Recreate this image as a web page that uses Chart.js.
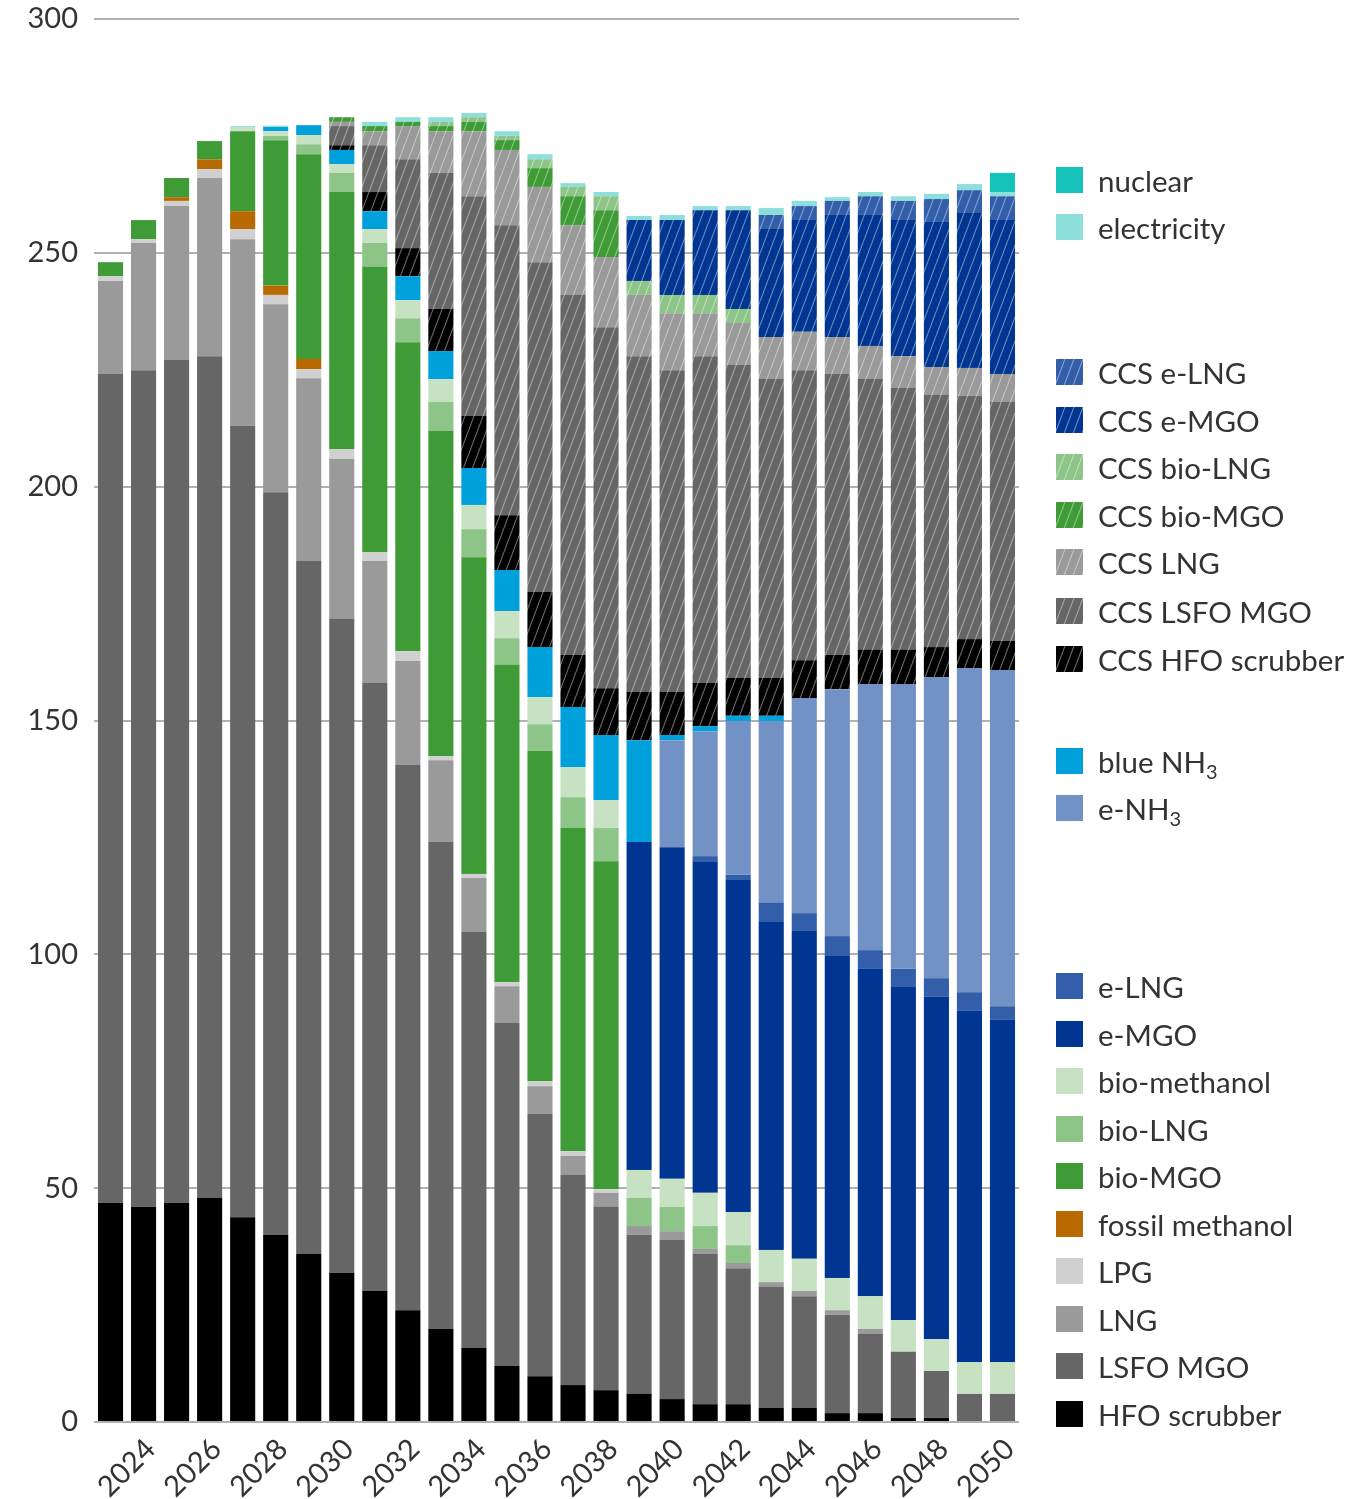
<!DOCTYPE html>
<html lang="en">
<head>
  <meta charset="UTF-8" />
  <title>Fuel mix by year</title>
  <script src="https://cdn.jsdelivr.net/npm/chart.js"></script>
  <style>
    body {
      margin: 0;
      background: #ffffff;
      font-family: 'Lato', 'Open Sans', sans-serif;
    }
    #wrap {
      position: relative;
      width: 1353px;
      height: 1499px;
    }
    #legend .item {
      position: absolute;
      left: 1056px;
      height: 30px;
      display: flex;
      align-items: center;
      white-space: nowrap;
      color: #333333;
      font-size: 29.5px;
    }
    #legend canvas {
      width: 27px;
      height: 26px;
      margin-right: 15px;
    }
    #legend sub {
      font-size: 20px;
      vertical-align: -6px;
      line-height: 0;
    }
  </style>
</head>
<body>
  <div id="wrap">
    <canvas id="fuelChart" width="1353" height="1499"></canvas>
    <div id="legend"></div>
  </div>

  <script>
    const years = ['2023', '2024', '2025', '2026', '2027', '2028', '2029', '2030', '2031', '2032',
      '2033', '2034', '2035', '2036', '2037', '2038', '2039', '2040', '2041', '2042',
      '2043', '2044', '2045', '2046', '2047', '2048', '2049', '2050'];

    const yTicks = [0, 50, 100, 150, 200, 250, 300];

    // fuel volumes per year, one list per fuel, bottom of the stack first
    const hfoScrubber   = [46.9, 46.0, 46.9, 47.9, 43.8, 40.0, 35.9, 31.9, 28.0, 23.9, 19.9, 15.8, 12.0, 9.8, 7.9, 6.8, 6.0, 4.9, 3.8, 3.8, 3.0, 3.0, 1.9, 1.9, 0.9, 0.9, 0, 0];
    const lsfoMgo       = [177.2, 178.9, 180.2, 180.0, 169.2, 158.8, 148.2, 139.8, 130.0, 116.6, 104.1, 89.0, 73.3, 56.1, 44.9, 39.2, 34.0, 34.0, 32.1, 29.1, 25.9, 23.9, 21.0, 16.9, 14.1, 10.0, 6.0, 6.0];
    const lng           = [19.9, 27.2, 32.9, 38.1, 39.9, 40.2, 39.1, 34.2, 26.1, 22.2, 17.5, 11.5, 7.9, 5.9, 4.1, 3.0, 1.9, 1.9, 1.1, 1.1, 1.0, 1.1, 1.0, 1.1, 0, 0, 0, 0];
    const lpg           = [1.0, 0.8, 1.1, 1.9, 2.2, 2.0, 1.9, 2.1, 1.9, 2.1, 0.9, 0.9, 0.9, 1.1, 1.0, 0.8, 0, 0, 0, 0, 0, 0, 0, 0, 0, 0, 0, 0];
    const fossilMeth    = [0, 0, 0.8, 2.1, 3.8, 2.0, 2.2, 0, 0, 0, 0, 0, 0, 0, 0, 0, 0, 0, 0, 0, 0, 0, 0, 0, 0, 0, 0, 0];
    const bioMgo        = [3.0, 4.1, 4.1, 3.9, 17.1, 31.1, 43.8, 55.0, 61.0, 66.1, 69.5, 67.7, 67.8, 70.6, 69.1, 70.1, 0, 0, 0, 0, 0, 0, 0, 0, 0, 0, 0, 0];
    const bioLng        = [0, 0, 0, 0, 0, 0.9, 2.1, 4.1, 5.1, 5.1, 6.2, 6.0, 5.7, 5.7, 6.6, 7.1, 6.0, 5.2, 4.9, 3.8, 0, 0, 0, 0, 0, 0, 0, 0];
    const bioMeth       = [0, 0, 0, 0, 0.9, 1.0, 2.0, 1.9, 3.0, 3.9, 4.9, 5.2, 5.8, 5.8, 6.4, 6.0, 6.0, 6.0, 7.1, 7.1, 6.9, 6.9, 6.9, 7.0, 6.8, 6.8, 6.8, 6.8];
    const eMgo          = [0, 0, 0, 0, 0, 0, 0, 0, 0, 0, 0, 0, 0, 0, 0, 0, 70.1, 70.9, 70.9, 71.0, 70.1, 70.1, 69.0, 70.0, 71.2, 73.2, 75.1, 73.2];
    const eLng          = [0, 0, 0, 0, 0, 0, 0, 0, 0, 0, 0, 0, 0, 0, 0, 0, 0, 0, 1.1, 1.1, 4.1, 3.8, 4.1, 4.0, 3.9, 4.0, 4.0, 2.9];
    const eNh3          = [0, 0, 0, 0, 0, 0, 0, 0, 0, 0, 0, 0, 0, 0, 0, 0, 0, 22.9, 26.7, 32.9, 38.9, 46.0, 52.8, 56.9, 60.9, 64.4, 69.3, 71.9];
    const blueNh3       = [0, 0, 0, 0, 0, 0.9, 2.1, 3.0, 3.8, 5.1, 6.0, 7.9, 8.8, 10.7, 12.9, 13.9, 21.8, 1.1, 1.1, 1.1, 1.1, 0, 0, 0, 0, 0, 0, 0];
    const ccsHfo        = [0, 0, 0, 0, 0, 0, 0, 1.0, 4.1, 6.0, 9.0, 11.1, 11.7, 11.8, 11.1, 10.0, 10.3, 9.2, 9.2, 8.1, 8.1, 8.1, 7.3, 7.3, 7.3, 6.4, 6.2, 6.2];
    const ccsLsfoMgo    = [0, 0, 0, 0, 0, 0, 0, 4.1, 10.0, 19.0, 29.1, 47.0, 62.0, 70.5, 77.0, 77.2, 71.8, 68.8, 69.9, 66.9, 63.9, 62.0, 60.1, 57.9, 56.0, 53.9, 52.0, 51.1];
    const ccsLng        = [0, 0, 0, 0, 0, 0, 0, 0.9, 3.0, 7.1, 8.9, 13.9, 16.1, 16.1, 14.9, 15.0, 13.1, 12.2, 9.2, 9.0, 9.0, 8.2, 7.9, 7.1, 6.8, 6.0, 6.0, 6.0];
    const ccsBioMgo     = [0, 0, 0, 0, 0, 0, 0, 1.0, 1.1, 0.9, 1.1, 2.0, 2.1, 4.0, 6.2, 10.0, 0, 0, 0, 0, 0, 0, 0, 0, 0, 0, 0, 0];
    const ccsBioLng     = [0, 0, 0, 0, 0, 0, 0, 0, 0, 0, 0.9, 1.0, 0.9, 1.9, 2.0, 3.0, 3.0, 3.9, 3.9, 3.0, 0, 0, 0, 0, 0, 0, 0, 0];
    const ccsEMgo       = [0, 0, 0, 0, 0, 0, 0, 0, 0, 0, 0, 0, 0, 0, 0, 0, 13.0, 16.0, 18.1, 21.1, 23.1, 23.9, 26.1, 28.0, 29.1, 31.0, 33.1, 32.9];
    const ccsELng       = [0, 0, 0, 0, 0, 0, 0, 0, 0, 0, 0, 0, 0, 0, 0, 0, 0, 0, 0, 0, 3.0, 3.0, 3.0, 4.0, 4.1, 4.9, 4.9, 5.1];
    const electricity   = [0, 0, 0, 0, 0.2, 0.3, 0, 0, 0.9, 1.0, 1.0, 0.9, 1.0, 1.1, 0.8, 0.9, 0.9, 1.1, 0.9, 0.9, 1.5, 1.1, 0.8, 0.9, 1.0, 1.1, 1.3, 0.9];
    const nuclear       = [0, 0, 0, 0, 0, 0, 0, 0, 0, 0, 0, 0, 0, 0, 0, 0, 0, 0, 0, 0, 0, 0, 0, 0, 0, 0, 0, 4.1];

    // diagonal white hatching used for the CCS variants
    function hatch(color) {
      const c = document.createElement('canvas');
      c.width = 9;
      c.height = 24;
      const g = c.getContext('2d');
      g.fillStyle = color;
      g.fillRect(0, 0, 9, 24);
      g.strokeStyle = 'rgba(255,255,255,0.42)';
      g.lineWidth = 1.1;
      g.beginPath();
      for (const off of [-9, 0, 9]) {
        g.moveTo(off - 1, 24 + 24 / 9);
        g.lineTo(off + 10, -24 / 9);
      }
      g.stroke();
      return g.createPattern(c, 'repeat');
    }

    const series = [
      { label: 'HFO scrubber', data: hfoScrubber, color: '#000000' },
      { label: 'LSFO MGO', data: lsfoMgo, color: '#666666' },
      { label: 'LNG', data: lng, color: '#9a9a9a' },
      { label: 'LPG', data: lpg, color: '#d0d0d0' },
      { label: 'fossil methanol', data: fossilMeth, color: '#b86a00' },
      { label: 'bio-MGO', data: bioMgo, color: '#3e9b35' },
      { label: 'bio-LNG', data: bioLng, color: '#8dc487' },
      { label: 'bio-methanol', data: bioMeth, color: '#c7e2c3' },
      { label: 'e-MGO', data: eMgo, color: '#003591' },
      { label: 'e-LNG', data: eLng, color: '#335ea9' },
      { label: 'e-NH3', data: eNh3, color: '#7292c5' },
      { label: 'blue NH3', data: blueNh3, color: '#00a0da' },
      { label: 'CCS HFO scrubber', data: ccsHfo, color: '#000000', hatched: true },
      { label: 'CCS LSFO MGO', data: ccsLsfoMgo, color: '#666666', hatched: true },
      { label: 'CCS LNG', data: ccsLng, color: '#9a9a9a', hatched: true },
      { label: 'CCS bio-MGO', data: ccsBioMgo, color: '#3e9b35', hatched: true },
      { label: 'CCS bio-LNG', data: ccsBioLng, color: '#8dc487', hatched: true },
      { label: 'CCS e-MGO', data: ccsEMgo, color: '#003591', hatched: true },
      { label: 'CCS e-LNG', data: ccsELng, color: '#335ea9', hatched: true },
      { label: 'electricity', data: electricity, color: '#8ddfdb' },
      { label: 'nuclear', data: nuclear, color: '#16c2ba' }
    ];

    const datasets = series.map(s => ({
      label: s.label,
      data: s.data,
      backgroundColor: s.hatched ? hatch(s.color) : s.color,
      borderWidth: 0,
      categoryPercentage: 1,
      barPercentage: 0.76
    }));

    const fontFamily = "'Lato', 'Open Sans', sans-serif";

    new Chart(document.getElementById('fuelChart'), {
      type: 'bar',
      data: { labels: years, datasets: datasets },
      options: {
        responsive: false,
        animation: false,
        devicePixelRatio: 1,
        layout: { padding: { top: 19, right: 334, left: 0, bottom: 0 } },
        plugins: {
          legend: { display: false },
          tooltip: { enabled: false }
        },
        scales: {
          x: {
            stacked: true,
            grid: { display: false },
            border: { display: false },
            ticks: {
              autoSkip: false,
              maxRotation: 45,
              minRotation: 45,
              color: '#333333',
              font: { family: fontFamily, size: 29 },
              padding: 2,
              labelOffset: 7,
              callback: (v, i) => (Number(years[i]) % 2 === 0 ? years[i] : '')
            },
            afterFit: scale => {
              scale.height = 77;
              scale.paddingLeft = 0;
              scale.paddingRight = 0;
            }
          },
          y: {
            stacked: true,
            min: 0,
            max: 300,
            afterBuildTicks: scale => { scale.ticks = yTicks.map(v => ({ value: v })); },
            grid: { color: '#b0b0b0', lineWidth: 2, drawTicks: false },
            border: { display: false },
            ticks: {
              color: '#333333',
              font: { family: fontFamily, size: 29 },
              padding: 16
            },
            afterFit: scale => {
              scale.width = 94;
              scale.paddingTop = 0;
              scale.paddingBottom = 0;
            }
          }
        }
      }
    });

    // legend on the right, grouped with gaps
    const legendRows = [
      ['nuclear', 180], ['electricity', 227],
      ['CCS e-LNG', 372], ['CCS e-MGO', 420], ['CCS bio-LNG', 467], ['CCS bio-MGO', 515],
      ['CCS LNG', 562], ['CCS LSFO MGO', 611], ['CCS HFO scrubber', 659],
      ['blue NH3', 761], ['e-NH3', 808],
      ['e-LNG', 986], ['e-MGO', 1034], ['bio-methanol', 1081], ['bio-LNG', 1129], ['bio-MGO', 1176],
      ['fossil methanol', 1224], ['LPG', 1271], ['LNG', 1319], ['LSFO MGO', 1366], ['HFO scrubber', 1414]
    ];

    const legendEl = document.getElementById('legend');
    legendRows.forEach(([name, y]) => {
      const s = series.find(d => d.label === name);
      const item = document.createElement('div');
      item.className = 'item';
      item.style.top = (y - 15) + 'px';
      const sw = document.createElement('canvas');
      sw.width = 27;
      sw.height = 26;
      const g = sw.getContext('2d');
      g.fillStyle = s.hatched ? hatch(s.color) : s.color;
      g.fillRect(0, 0, 27, 26);
      item.appendChild(sw);
      const txt = document.createElement('span');
      txt.innerHTML = name.replace('NH3', 'NH<sub>3</sub>');
      item.appendChild(txt);
      legendEl.appendChild(item);
    });
  </script>
</body>
</html>
